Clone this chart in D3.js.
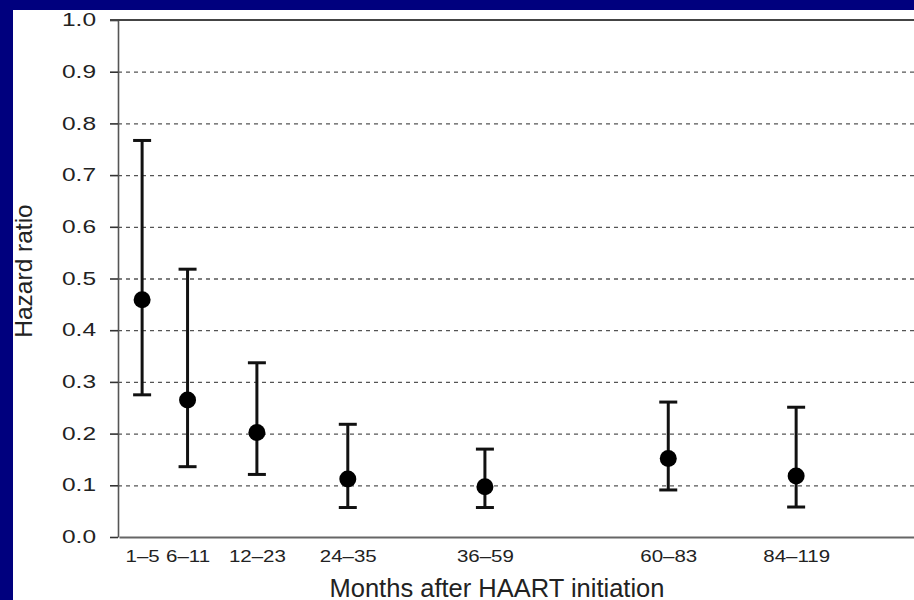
<!DOCTYPE html>
<html>
<head>
<meta charset="utf-8">
<script src="https://cdn.jsdelivr.net/npm/d3@7"></script>
<style>
  body { margin: 0; background: #00007e; }
  svg { display: block; }
  text { font-family: "Liberation Sans", Arial, sans-serif; fill: #222; }
</style>
</head>
<body>
<svg id="chart" width="914" height="600"></svg>
<script>
// periods after HAART start, plotted at their month position
const periods = ['1–5', '6–11', '12–23', '24–35', '36–59', '60–83', '84–119'];
const monthPos = [3, 8.9, 17.9, 29.7, 47.5, 71.3, 87.9];
const hazard = [0.459, 0.265, 0.202, 0.112, 0.097, 0.152, 0.118];
const lower = [0.275, 0.136, 0.121, 0.057, 0.057, 0.091, 0.058];
const upper = [0.767, 0.518, 0.337, 0.218, 0.170, 0.261, 0.251];
const yTicks = [0, 0.1, 0.2, 0.3, 0.4, 0.5, 0.6, 0.7, 0.8, 0.9, 1.0];

const data = periods.map((p, i) => ({
  period: p, month: monthPos[i], hr: hazard[i], lo: lower[i], hi: upper[i]
}));

const svg = d3.select('#chart');

// white panel inside the navy frame
svg.append('rect')
  .attr('x', 13).attr('y', 10)
  .attr('width', 901).attr('height', 590)
  .attr('fill', '#fff');

const plotLeft = 118, plotRight = 914, plotTop = 20, plotBottom = 537;

const x = d3.scaleLinear()
  .domain([0, 103.2])
  .range([plotLeft + 1, plotRight]);

const y = d3.scaleLinear()
  .domain([0, 1])
  .range([plotBottom, plotTop]);

// dotted grid lines
svg.append('g')
  .attr('transform', `translate(${plotLeft}, 0)`)
  .call(d3.axisLeft(y)
    .tickValues(yTicks.filter(d => d > 0 && d < 1))
    .tickSize(-(plotRight - plotLeft))
    .tickFormat(''))
  .call(g => g.select('.domain').remove())
  .selectAll('line')
  .attr('stroke', '#555')
  .attr('stroke-width', 1.3)
  .attr('stroke-dasharray', '4,4');

// y axis
const yAxis = svg.append('g')
  .attr('transform', `translate(${plotLeft}, 0)`)
  .call(d3.axisLeft(y)
    .tickValues(yTicks)
    .tickSize(8)
    .tickSizeOuter(0)
    .tickFormat(d3.format('.1f')));

yAxis.select('.domain').attr('stroke', '#555').attr('stroke-width', 1.6);
yAxis.selectAll('.tick line').attr('stroke', '#333').attr('stroke-width', 1.6);
yAxis.selectAll('.tick text')
  .attr('x', -22 / 1.4)
  .attr('transform', 'scale(1.4,1)')
  .style('font-size', '17.5px')
  .attr('fill', '#222');

// frame top line at 1.0
svg.append('line')
  .attr('x1', plotLeft - 8).attr('x2', plotRight)
  .attr('y1', y(1)).attr('y2', y(1))
  .attr('stroke', '#444')
  .attr('stroke-width', 2.2);

// x axis
const xAxis = svg.append('g')
  .attr('transform', `translate(0, ${plotBottom})`)
  .call(d3.axisBottom(x)
    .tickValues(monthPos)
    .tickSize(0)
    .tickSizeOuter(0)
    .tickFormat((d, i) => periods[i]));

xAxis.select('.domain').attr('stroke', '#666').attr('stroke-width', 2.2);
xAxis.selectAll('.tick text')
  .attr('y', 14)
  .attr('transform', 'scale(1.28,1)')
  .style('font-size', '16px')
  .attr('fill', '#222');

// error bars and points
const marks = svg.append('g').selectAll('g')
  .data(data)
  .enter()
  .append('g');

marks.append('line')
  .attr('x1', d => x(d.month)).attr('x2', d => x(d.month))
  .attr('y1', d => y(d.lo)).attr('y2', d => y(d.hi))
  .attr('stroke', '#111').attr('stroke-width', 3);

marks.append('line')
  .attr('x1', d => x(d.month) - 9).attr('x2', d => x(d.month) + 9)
  .attr('y1', d => y(d.hi)).attr('y2', d => y(d.hi))
  .attr('stroke', '#111').attr('stroke-width', 3);

marks.append('line')
  .attr('x1', d => x(d.month) - 9).attr('x2', d => x(d.month) + 9)
  .attr('y1', d => y(d.lo)).attr('y2', d => y(d.lo))
  .attr('stroke', '#111').attr('stroke-width', 3);

marks.append('circle')
  .attr('cx', d => x(d.month))
  .attr('cy', d => y(d.hr))
  .attr('r', 8.5)
  .attr('fill', '#000');

// axis titles
svg.append('text')
  .attr('x', 497)
  .attr('y', 597)
  .attr('text-anchor', 'middle')
  .style('font-size', '25.5px')
  .text('Months after HAART initiation');

svg.append('text')
  .attr('transform', 'translate(32, 271) rotate(-90)')
  .attr('text-anchor', 'middle')
  .style('font-size', '24.5px')
  .text('Hazard ratio');
</script>
</body>
</html>
